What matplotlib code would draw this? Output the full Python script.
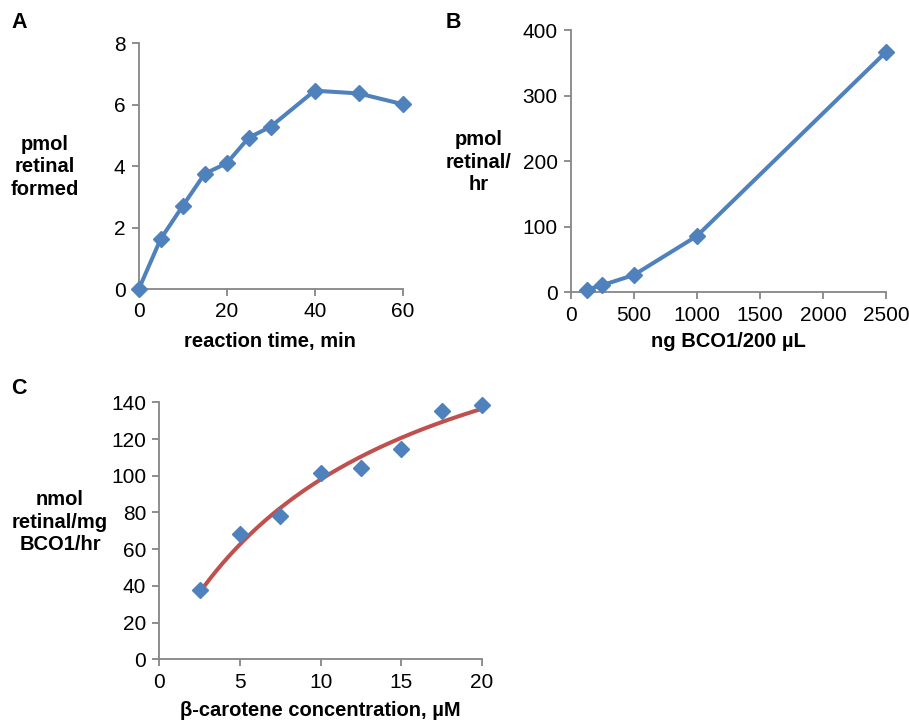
import numpy as np
import matplotlib.pyplot as plt

plt.rcParams['font.family'] = ['Liberation Sans', 'DejaVu Sans']

# panel A: time course
time_min = [0, 5, 10, 15, 20, 25, 30, 40, 50, 60]
retinal_pmol = [0, 1.64, 2.71, 3.76, 4.10, 4.93, 5.29, 6.46, 6.37, 6.02]

# panel B: enzyme amount
bco1_ng = [125, 250, 500, 1000, 2500]
rate_pmol_hr = [4, 11, 26.5, 86, 367]

# panel C: substrate concentration
carotene_uM = [2.5, 5, 7.5, 10, 12.5, 15, 17.5, 20]
rate_nmol_mg_hr = [37.6, 68.3, 77.9, 101.3, 104.4, 114.7, 135.1, 138.4]

blue = '#4F81BD'
red = '#C0504D'
gray = '#868686'

fig = plt.figure(figsize=(9.09, 7.22), dpi=100)
fig.patch.set_facecolor('white')


def style(ax):
    for s in ['top', 'right']:
        ax.spines[s].set_visible(False)
    for s in ['left', 'bottom']:
        ax.spines[s].set_color(gray)
        ax.spines[s].set_linewidth(1.3)
    ax.tick_params(direction='out', length=5, width=1.3, color=gray,
                   labelsize=15, pad=4.5)


axA = fig.add_axes([0.1526, 0.5993, 0.2904, 0.3407])
axA.plot(time_min, retinal_pmol, color=blue, lw=2.9, marker='D', ms=8.5,
         clip_on=False, zorder=3)
axA.set_xlim(0, 60)
axA.set_ylim(0, 8)
axA.set_xticks([0, 20, 40, 60])
axA.set_yticks([0, 2, 4, 6, 8])
style(axA)

axB = fig.add_axes([0.628, 0.5951, 0.3467, 0.3629])
axB.plot(bco1_ng, rate_pmol_hr, color=blue, lw=2.9, marker='D', ms=8.5,
         clip_on=False, zorder=3)
axB.set_xlim(0, 2500)
axB.set_ylim(0, 400)
axB.set_xticks([0, 500, 1000, 1500, 2000, 2500])
axB.set_yticks([0, 100, 200, 300, 400])
style(axB)

axC = fig.add_axes([0.1752, 0.0868, 0.355, 0.356])
# Michaelis-Menten fit: grid over Km, least squares for Vmax
xc = np.array(carotene_uM)
yc = np.array(rate_nmol_mg_hr)
best = None
for km in np.linspace(1, 40, 2000):
    f = xc / (km + xc)
    vmax = np.sum(yc * f) / np.sum(f * f)
    err = np.sum((yc - vmax * f) ** 2)
    if best is None or err < best[0]:
        best = (err, km, vmax)
_, km, vmax = best
xfit = np.linspace(min(carotene_uM), max(carotene_uM), 200)
axC.plot(xfit, vmax * xfit / (km + xfit), color=red, lw=2.9, zorder=2)
axC.plot(carotene_uM, rate_nmol_mg_hr, ls='none', color=blue, marker='D',
         ms=8.5, clip_on=False, zorder=3)
axC.set_xlim(0, 20)
axC.set_ylim(0, 140)
axC.set_xticks([0, 5, 10, 15, 20])
axC.set_yticks(range(0, 141, 20))
style(axC)

# axis titles
fs = 14.5
fig.text(45 / 909, 1 - 167 / 722, 'pmol\nretinal\nformed', ha='center',
         va='center', fontsize=fs, fontweight='bold', linespacing=1.25)
fig.text(270 / 909, 1 - 342 / 722, 'reaction time, min', ha='center',
         va='center', fontsize=fs, fontweight='bold')
fig.text(479 / 909, 1 - 162 / 722, 'pmol\nretinal/\nhr', ha='center',
         va='center', fontsize=fs, fontweight='bold', linespacing=1.25)
fig.text(728 / 909, 1 - 342 / 722, 'ng BCO1/200 µL', ha='center',
         va='center', fontsize=fs, fontweight='bold')
fig.text(60 / 909, 1 - 522 / 722, 'nmol\nretinal/mg\nBCO1/hr', ha='center',
         va='center', fontsize=fs, fontweight='bold', linespacing=1.25)
fig.text(320 / 909, 1 - 711 / 722, 'β-carotene concentration, µM',
         ha='center', va='center', fontsize=fs, fontweight='bold')

# panel letters
for lab, x, y in [('A', 19, 23), ('B', 453, 23), ('C', 19, 389)]:
    fig.text(x / 909, 1 - y / 722, lab, ha='center', va='center',
             fontsize=15.5, fontweight='bold')

fig.savefig('out.png', dpi=100, facecolor='white')
